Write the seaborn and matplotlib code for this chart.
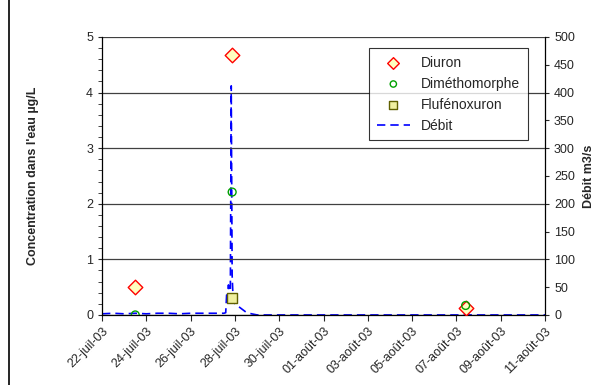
"""Concentrations en pesticides et débit, juillet-août 2003."""

import matplotlib

matplotlib.use("Agg")
import matplotlib.pyplot as plt  # noqa: E402
import numpy as np  # noqa: E402
import pandas as pd  # noqa: E402
import seaborn as sns  # noqa: E402
from matplotlib.lines import Line2D  # noqa: E402
from matplotlib.ticker import MultipleLocator  # noqa: E402

# --- data ---
sample_dates = ["2003-07-23 12:00", "2003-07-27 21:00", "2003-08-07 10:00"]
diuron = [0.5, 4.67, 0.13]
dimethomorphe = [0.0, 2.21, 0.17]
flufenoxuron = [np.nan, 0.3, np.nan]

debit_dates = [
    "2003-07-22 00:00", "2003-07-22 12:00", "2003-07-23 00:00", "2003-07-23 12:00",
    "2003-07-24 00:00", "2003-07-24 12:00", "2003-07-25 00:00", "2003-07-25 12:00",
    "2003-07-26 00:00", "2003-07-26 12:00", "2003-07-27 00:00", "2003-07-27 12:00",
    "2003-07-27 14:00", "2003-07-27 15:00", "2003-07-27 16:00", "2003-07-27 17:00",
    "2003-07-27 18:00", "2003-07-27 19:00", "2003-07-27 20:00", "2003-07-27 21:00",
    "2003-07-27 22:00", "2003-07-27 23:00", "2003-07-28 01:00", "2003-07-28 04:00",
    "2003-07-28 08:00", "2003-07-28 12:00", "2003-07-28 18:00", "2003-07-29 00:00",
    "2003-07-30 00:00", "2003-08-01 00:00", "2003-08-05 00:00", "2003-08-11 00:00",
]
debit = [
    2, 3, 2, 3,
    2, 3, 3, 2,
    3, 3, 3, 3,
    4, 36, 25, 54,
    18, 30, 412, 70,
    30, 22, 18, 15,
    10, 5, 2, 0,
    0, 0, 0, 0,
]

tick_labels = [
    "22-juil-03", "24-juil-03", "26-juil-03", "28-juil-03", "30-juil-03",
    "01-août-03", "03-août-03", "05-août-03", "07-août-03", "09-août-03",
    "11-août-03",
]

samples = pd.DataFrame({
    "date": pd.to_datetime(sample_dates),
    "Diuron": diuron,
    "Diméthomorphe": dimethomorphe,
    "Flufénoxuron": flufenoxuron,
})
flow = pd.DataFrame({"date": pd.to_datetime(debit_dates), "Débit": debit})

sns.set_style("white")
plt.rcParams["font.family"] = ["Liberation Sans", "DejaVu Sans"]

fig = plt.figure(figsize=(6.11, 3.85), dpi=100)
ax = fig.add_axes([0.167, 0.182, 0.725, 0.722])
ax2 = ax.twinx()

# flow on the right axis
sns.lineplot(data=flow, x="date", y="Débit", ax=ax2, color="#0000ff",
             lw=1.2, dashes=False, linestyle=(0, (5, 3)), label="Débit")
ax2.set_ylim(0, 500)
ax2.yaxis.set_major_locator(MultipleLocator(50))
ax2.set_ylabel("Débit m3/s", fontsize=9, fontweight="bold", labelpad=6)

# concentrations on the left axis, drawn above the flow line
ax.set_zorder(ax2.get_zorder() + 1)
ax.patch.set_visible(False)
sns.scatterplot(data=samples, x="date", y="Diuron", ax=ax, marker="D", s=55,
                color="#ffffc0", edgecolor="#ff0000", linewidth=1, label="Diuron",
                zorder=3)
sns.scatterplot(data=samples, x="date", y="Diméthomorphe", ax=ax, marker="o", s=32,
                color="none", edgecolor="#00a000", linewidth=1,
                label="Diméthomorphe", zorder=4)
sns.scatterplot(data=samples, x="date", y="Flufénoxuron", ax=ax, marker="s", s=55,
                color="#f0f0a0", edgecolor="#606000", linewidth=1,
                label="Flufénoxuron", zorder=3)
ax.set_ylim(0, 5)
ax.yaxis.set_major_locator(MultipleLocator(1))
ax.yaxis.set_minor_locator(MultipleLocator(0.2))
ax.set_ylabel("Concentration dans l'eau µg/L", fontsize=9, fontweight="bold",
              labelpad=34)
ax.set_xlabel("")
ax2.set_xlabel("")

ticks = pd.date_range("2003-07-22", "2003-08-11", freq="2D")
ax.set_xlim(ticks[0], ticks[-1])
ax.set_xticks(ticks)
ax.set_xticklabels(tick_labels, rotation=45, ha="right", rotation_mode="anchor",
                   fontsize=9)
ax.tick_params(axis="x", length=4, direction="out", bottom=True)
ax.tick_params(axis="y", which="both", length=3, direction="out", left=True,
               labelsize=9)
ax2.tick_params(axis="y", length=3, direction="out", right=True, labelsize=9)
ax.grid(axis="y", which="major", color="#404040", lw=0.9)

for a in (ax, ax2):
    for side in a.spines.values():
        side.set_visible(False)
ax.spines["left"].set_visible(True)
ax.spines["bottom"].set_visible(True)
ax2.spines["right"].set_visible(True)
for s in (ax.spines["left"], ax.spines["bottom"], ax2.spines["right"]):
    s.set_color("black")
    s.set_linewidth(0.9)

h1, l1 = ax.get_legend_handles_labels()
h2, l2 = ax2.get_legend_handles_labels()
ax2.get_legend().remove()
leg = ax.legend(h1 + h2, l1 + l2, loc="upper right", bbox_to_anchor=(0.977, 0.985),
                frameon=True, fancybox=False, edgecolor="black", fontsize=10,
                handlelength=2.4, borderpad=0.55, labelspacing=0.5,
                markerscale=0.8)
leg.get_frame().set_linewidth(0.8)

# chart-area border on the left
fig.add_artist(Line2D([0.014, 0.014], [0, 1], color="black", lw=1.2))

plt.savefig("out.png", dpi=100)
plt.close()
